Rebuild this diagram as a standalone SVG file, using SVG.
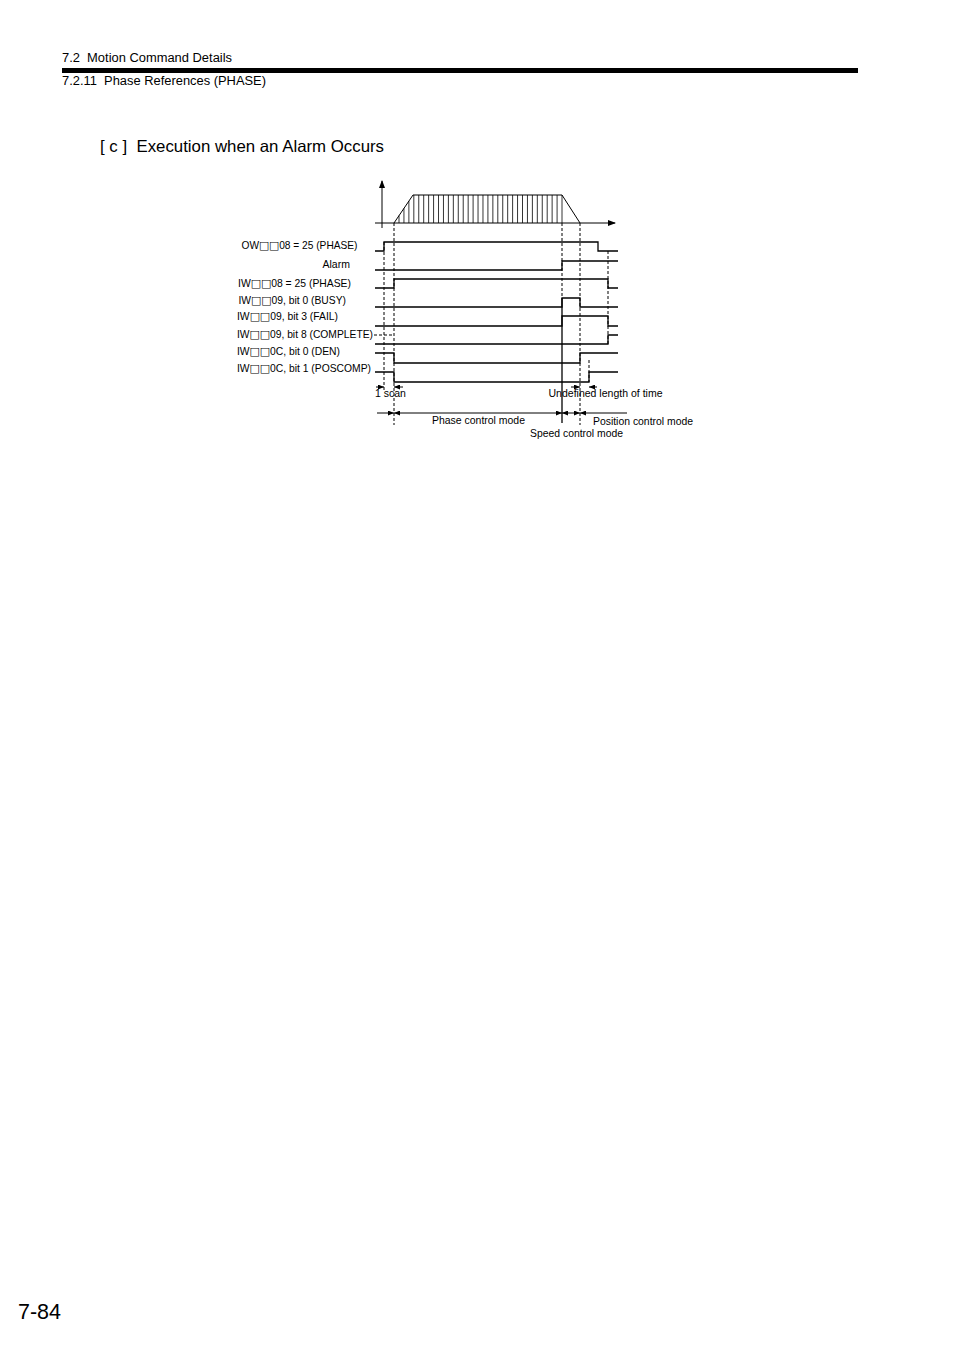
<svg xmlns="http://www.w3.org/2000/svg" width="954" height="1350" viewBox="0 0 954 1350">
<style>
text{font-family:"Liberation Sans",Arial,Helvetica,sans-serif;fill:#000}
.hd{font-size:12.5px}
.lb{font-size:10.5px}
.bx{font-family:"DejaVu Sans",sans-serif;font-size:11px}
.sig{fill:none;stroke:#000;stroke-width:1.3}
.ax{fill:none;stroke:#000;stroke-width:1}
.hatch{fill:none;stroke:#000;stroke-width:0.8}
.dash{fill:none;stroke:#000;stroke-width:1;stroke-dasharray:3 2}
.dim{fill:none;stroke:#000;stroke-width:1}
</style>
<defs>
<marker id="ah" viewBox="0 0 6 5" refX="6" refY="2.5" markerWidth="6" markerHeight="5" markerUnits="userSpaceOnUse" orient="auto-start-reverse">
<path d="M0,0 L6,2.5 L0,5 z" fill="#000"/>
</marker>
<marker id="axh" viewBox="0 0 8 6" refX="7" refY="3" markerWidth="8" markerHeight="6" markerUnits="userSpaceOnUse" orient="auto">
<path d="M0,0 L8,3 L0,6 z" fill="#000"/>
</marker>
</defs>
<rect width="954" height="1350" fill="#fff"/>
<g id="header">
<text class="hd" x="62" y="61.5" textLength="170" lengthAdjust="spacingAndGlyphs" xml:space="preserve">7.2  Motion Command Details</text>
<rect x="62" y="68" width="796" height="5" fill="#000"/>
<text class="hd" x="62" y="84.5" textLength="204" lengthAdjust="spacingAndGlyphs" xml:space="preserve">7.2.11  Phase References (PHASE)</text>
</g>
<g id="title">
<text x="100" y="151.5" font-size="16.5" textLength="284" lengthAdjust="spacingAndGlyphs" xml:space="preserve">[ c ]  Execution when an Alarm Occurs</text>
</g>
<g id="page-number">
<text x="18" y="1319" font-size="21.5">7-84</text>
</g>
<g id="speed-profile">
<line class="ax" x1="382" y1="228" x2="382" y2="181" marker-end="url(#axh)"/>
<line class="ax" x1="375" y1="223" x2="615" y2="223" marker-end="url(#axh)"/>
<path class="ax" d="M394,223 L413,195 H562 L580,223"/>
<path class="hatch" d="M399,223V215.6 M403.94,223V208.4 M408.88,223V201.1 M413.82,223V195 M418.76,223V195 M423.7,223V195 M428.64,223V195 M433.58,223V195 M438.52,223V195 M443.46,223V195 M448.4,223V195 M453.34,223V195 M458.28,223V195 M463.22,223V195 M468.16,223V195 M473.1,223V195 M478.04,223V195 M482.98,223V195 M487.92,223V195 M492.86,223V195 M497.8,223V195 M502.74,223V195 M507.68,223V195 M512.62,223V195 M517.56,223V195 M522.5,223V195 M527.44,223V195 M532.38,223V195 M537.32,223V195 M542.26,223V195 M547.2,223V195 M552.14,223V195 M557.08,223V195 M562,223V195"/>
</g>
<g id="labels">
<text class="lb" x="241.5" y="249" textLength="116" lengthAdjust="spacingAndGlyphs">OW<tspan class="bx">□□</tspan>08 = 25 (PHASE)</text>
<text class="lb" x="322.5" y="268">Alarm</text>
<text class="lb" x="238" y="286.5" textLength="113" lengthAdjust="spacingAndGlyphs">IW<tspan class="bx">□□</tspan>08 = 25 (PHASE)</text>
<text class="lb" x="238.5" y="303.5" textLength="107.5" lengthAdjust="spacingAndGlyphs">IW<tspan class="bx">□□</tspan>09, bit 0 (BUSY)</text>
<text class="lb" x="237" y="320" textLength="101" lengthAdjust="spacingAndGlyphs">IW<tspan class="bx">□□</tspan>09, bit 3 (FAIL)</text>
<text class="lb" x="237" y="338" textLength="136" lengthAdjust="spacingAndGlyphs">IW<tspan class="bx">□□</tspan>09, bit 8 (COMPLETE)</text>
<text class="lb" x="237" y="355" textLength="103" lengthAdjust="spacingAndGlyphs">IW<tspan class="bx">□□</tspan>0C, bit 0 (DEN)</text>
<text class="lb" x="237" y="372" textLength="134" lengthAdjust="spacingAndGlyphs">IW<tspan class="bx">□□</tspan>0C, bit 1 (POSCOMP)</text>
</g>
<g id="signals">
<path id="sig-ow08" class="sig" d="M375,251 H384 V242 H598 V251 H618"/>
<path id="sig-alarm" class="sig" d="M375,270 H562 V261 H618"/>
<path id="sig-iw08" class="sig" d="M375,288 H394 V279 H608 V288 H618"/>
<path id="sig-busy" class="sig" d="M375,307 H562 V298 H580 V307 H618"/>
<path id="sig-fail" class="sig" d="M375,326 H562 V316 H608 V326 H618"/>
<path id="sig-complete" class="sig" d="M375,344 H608 V335 H618"/>
<path id="sig-den" class="sig" d="M375,353 H394 V363 H580 V353 H618"/>
<path id="sig-poscomp" class="sig" d="M375,372 H394 V382 H589 V372 H618"/>
</g>
<g id="connectors">
<line class="dash" x1="374" y1="335" x2="394" y2="335"/>
<line class="dash" x1="384" y1="242" x2="384" y2="390"/>
<line class="dash" x1="394" y1="223" x2="394" y2="425"/>
<line class="dash" x1="562" y1="223" x2="562" y2="298"/>
<line class="sig" x1="562" y1="298" x2="562" y2="423"/>
<line class="dash" x1="580" y1="223" x2="580" y2="425"/>
<line class="dash" x1="608" y1="251" x2="608" y2="345"/>
<line class="dash" x1="589" y1="360" x2="589" y2="382"/>
<line class="dim" x1="376" y1="387" x2="384" y2="387" marker-end="url(#ah)"/>
<line class="dim" x1="394" y1="387" x2="403" y2="387" marker-start="url(#ah)"/>
<line class="dim" x1="571" y1="387" x2="580" y2="387" marker-end="url(#ah)"/>
<line class="dim" x1="589" y1="387" x2="597" y2="387" marker-start="url(#ah)"/>
<line class="dim" x1="377" y1="413" x2="394" y2="413" marker-end="url(#ah)"/>
<line class="dim" x1="394" y1="413" x2="562" y2="413" marker-start="url(#ah)" marker-end="url(#ah)"/>
<line class="dim" x1="562" y1="413" x2="580" y2="413" marker-start="url(#ah)" marker-end="url(#ah)"/>
<line class="dim" x1="580" y1="413" x2="627" y2="413" marker-start="url(#ah)"/>
</g>
<g id="dimension-labels">
<text class="lb" x="375" y="397">1 scan</text>
<text class="lb" x="548.5" y="397" textLength="114" lengthAdjust="spacingAndGlyphs">Undefined length of time</text>
<text class="lb" x="432" y="423.5" textLength="93" lengthAdjust="spacingAndGlyphs">Phase control mode</text>
<text class="lb" x="593" y="424.5" textLength="100" lengthAdjust="spacingAndGlyphs">Position control mode</text>
<text class="lb" x="530" y="437" textLength="93" lengthAdjust="spacingAndGlyphs">Speed control mode</text>
</g>
</svg>
